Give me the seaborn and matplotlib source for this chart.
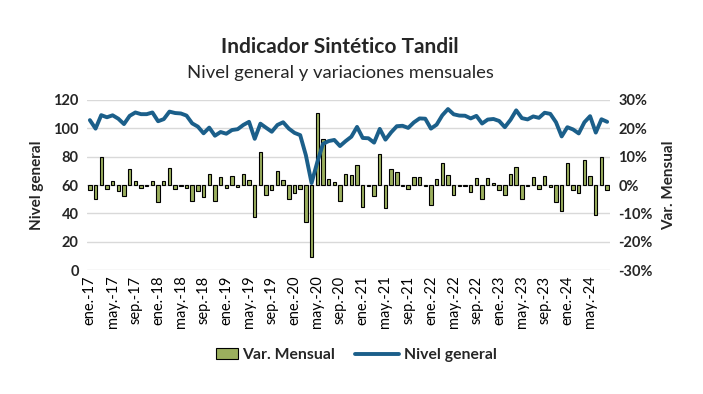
import numpy as np
import pandas as pd
import matplotlib
matplotlib.use('Agg')
import matplotlib.pyplot as plt
import seaborn as sns
from matplotlib.patches import Patch
from matplotlib.lines import Line2D

# monthly series, ene.-17 .. ago.-24
nivel_general = [
    105.8, 99.8, 109.3, 107.8, 109.2, 106.8, 103.0, 108.8, 111.2, 110.0, 110.0, 111.2,
    105.0, 106.5, 111.8, 110.8, 110.5, 109.0, 103.5, 101.2, 96.5, 100.5, 94.8, 97.4,
    96.2, 98.8, 99.4, 102.4, 104.6, 92.6, 103.3, 100.4, 97.6, 102.4, 104.3, 99.8,
    96.8, 95.2, 81.0, 61.4, 76.0, 89.0, 91.0, 91.8, 87.5, 91.0, 94.1, 101.0,
    93.2, 93.0, 89.9, 99.6, 92.0, 97.2, 101.5, 101.8, 100.3, 104.2, 107.0, 106.8,
    99.8, 102.6, 109.2, 113.6, 109.9, 109.0, 108.9, 107.0, 108.8, 103.4, 106.2, 106.6,
    105.2, 100.8, 106.0, 112.7, 107.2, 106.3, 108.4, 107.4, 111.0, 110.2, 104.3, 94.3,
    100.8, 99.2, 96.4, 104.3, 108.6, 97.0, 106.4, 104.6,
]
var_mensual = [
    -1.8, -5.0, 9.8, -1.5, 1.4, -2.1, -4.0, 5.5, 1.4, -1.2, -0.3, 1.4,
    -6.0, 1.4, 6.0, -1.4, -0.3, -1.2, -5.6, -2.2, -4.3, 4.0, -5.6, 2.7,
    -1.1, 3.1, -0.8, 3.8, 1.8, -11.4, 11.5, -3.6, -1.9, 4.9, 1.6, -5.0,
    -2.9, -1.4, -13.2, -25.5, 25.3, 16.1, 2.0, 0.9, -5.6, 3.8, 3.4, 6.9,
    -7.9, -0.2, -4.0, 10.8, -8.2, 5.5, 4.6, -0.2, -1.3, 2.7, 2.7, -0.2,
    -7.2, 2.0, 7.6, 3.4, -3.6, -0.2, -0.2, -2.6, 2.4, -5.1, 2.4, 0.6,
    -1.9, -3.6, 3.8, 6.2, -5.1, -0.2, 2.7, -1.5, 3.1, -0.8, -6.1, -9.3,
    7.6, -1.8, -2.8, 8.7, 3.1, -10.6, 9.8, -1.8,
]
meses = ['ene', 'feb', 'mar', 'abr', 'may', 'jun', 'jul', 'ago', 'sep', 'oct', 'nov', 'dic']
anios = list(range(17, 25))

etiquetas = [f'{m}.-{a}' for a in anios for m in meses][:len(nivel_general)]
df = pd.DataFrame({'k': np.arange(len(nivel_general)), 'mes': etiquetas,
                   'nivel': nivel_general, 'var': np.array(var_mensual) / 100})

sns.set_style('white')
plt.rcParams['font.family'] = ['Lato', 'DejaVu Sans']

verde = '#9BAF5E'
azul = '#1B5F8A'

fig = plt.figure(figsize=(7.03, 3.94), dpi=100)
ax = fig.add_axes([0.1238, 0.3147, 0.7439, 0.4315])
ax2 = ax.twinx()

sns.barplot(data=df, x='k', y='var', ax=ax2, color=verde, edgecolor='black',
            linewidth=0.8, width=0.6, saturation=1)
sns.lineplot(data=df, x='k', y='nivel', ax=ax, color=azul, linewidth=2.8)

ax.set_zorder(ax2.get_zorder() + 1)
ax.patch.set_visible(False)

ax.set_ylim(0, 120)
ax2.set_ylim(-0.3, 0.3)
ax.set_yticks(range(0, 121, 20))
ax2.set_yticks(np.arange(-0.3, 0.31, 0.1))
ax2.set_yticklabels([f'{int(round(v * 100))}%' for v in np.arange(-0.3, 0.31, 0.1)])
ax2.grid(False)
for v in range(0, 121, 20):
    ax2.axhline(v / 200 - 0.3, color='#d9d9d9', linewidth=1, zorder=0)

for a in (ax, ax2):
    for s in a.spines.values():
        s.set_visible(False)
    a.tick_params(length=0)
ax.tick_params(axis='y', labelsize=10.5, pad=6)
ax2.tick_params(axis='y', labelsize=10.5, pad=6)
for t in ax.get_yticklabels() + ax2.get_yticklabels():
    t.set_fontweight('bold')

ticks = list(range(0, len(df), 4))
ax.set_xticks(ticks)
ax.set_xticklabels([etiquetas[i] for i in ticks], rotation=90, fontsize=10.5)
ax.tick_params(axis='x', pad=4, labelbottom=True, labelcolor='black')
ax2.tick_params(axis='x', labelbottom=False, labeltop=False)
ax.set_xlim(-0.5, len(df) - 0.5)

ax.set_xlabel('')
ax2.set_xlabel('')
ax.set_ylabel('Nivel general', fontsize=11, fontweight='bold')
ax2.set_ylabel('Var. Mensual', fontsize=11, fontweight='bold')
ax.yaxis.set_label_coords(-0.082, 0.5)
ax2.yaxis.set_label_coords(1.099, 0.5)

fig.text(0.484, 0.88, 'Indicador Sintético Tandil', ha='center', va='center',
         fontsize=15, fontweight='bold')
fig.text(0.484, 0.815, 'Nivel general y variaciones mensuales', ha='center',
         va='center', fontsize=13.3)

leg_font = {'weight': 'bold', 'size': 11.3}
fig.legend([Patch(facecolor=verde, edgecolor='black', linewidth=0.8)], ['Var. Mensual'],
           loc='center left', bbox_to_anchor=(0.307, 0.099), frameon=False, prop=leg_font,
           borderpad=0, borderaxespad=0, handlelength=1.4, handleheight=0.75,
           handletextpad=0.3)
fig.legend([Line2D([0], [0], color=azul, linewidth=2.8)], ['Nivel general'],
           loc='center left', bbox_to_anchor=(0.505, 0.099), frameon=False, prop=leg_font,
           borderpad=0, borderaxespad=0, handlelength=2.8, handletextpad=0.3)

fig.savefig('out.png', dpi=100)
